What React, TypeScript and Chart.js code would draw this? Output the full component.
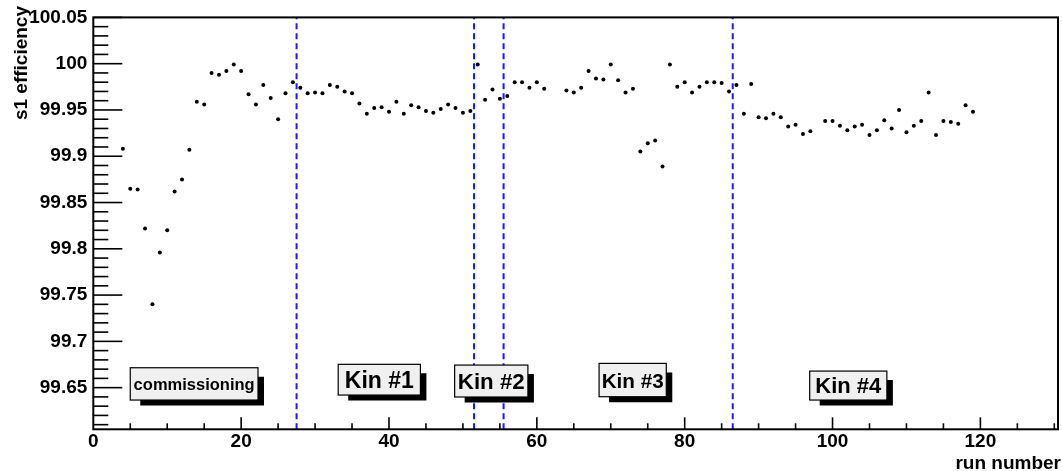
import React, { useEffect, useRef } from 'react';
import { Chart, registerables } from 'chart.js';

Chart.register(...registerables);

// ---- data ----
const runs = [
  4, 5, 6, 7, 8, 9, 10, 11, 12, 13, 14, 15, 16, 17, 18, 19, 20, 21, 22, 23, 24, 25, 26, 27, 28, 29,
  30, 31, 32, 33, 34, 35, 36, 37, 38, 39, 40, 41, 42, 43, 44, 45, 46, 47, 48, 49, 50, 51, 52, 53, 54,
  55, 56, 57, 58, 59, 60, 61, 64, 65, 66, 67, 68, 69, 70, 71, 72, 73, 74, 75, 76, 77, 78, 79, 80, 81,
  82, 83, 84, 85, 86, 87, 88, 89, 90, 91, 92, 93, 94, 95, 96, 97, 99, 100, 101, 102, 103, 104, 105,
  106, 107, 108, 109, 110, 111, 112, 113, 114, 115, 116, 117, 118, 119,
];
const efficiency = [
  99.908, 99.865, 99.864, 99.822, 99.74, 99.796, 99.82, 99.862, 99.875, 99.907, 99.959, 99.956,
  99.99, 99.988, 99.992, 99.999, 99.992, 99.967, 99.956, 99.977, 99.963, 99.94, 99.968, 99.98,
  99.974, 99.968, 99.969, 99.968, 99.977, 99.975, 99.97, 99.968, 99.957, 99.946, 99.952, 99.953,
  99.948, 99.959, 99.946, 99.955, 99.953, 99.949, 99.947, 99.951, 99.956, 99.952, 99.947, 99.949,
  99.999, 99.961, 99.972, 99.962, 99.965, 99.98, 99.98, 99.974, 99.98, 99.973,
  99.971, 99.969, 99.974, 99.992, 99.984, 99.983, 99.999, 99.982, 99.969, 99.973, 99.905, 99.914,
  99.917, 99.889, 99.999, 99.975, 99.98, 99.969, 99.975, 99.98, 99.98, 99.979, 99.97, 99.977,
  99.946, 99.978, 99.942, 99.941, 99.946, 99.942, 99.932, 99.934, 99.924, 99.927,
  99.938, 99.938, 99.933, 99.928, 99.932, 99.934, 99.923, 99.928, 99.939, 99.93, 99.95, 99.926,
  99.933, 99.938, 99.969, 99.923, 99.938, 99.937, 99.935, 99.955, 99.948,
];
const xTickValues = [0, 20, 40, 60, 80, 100, 120];
const yTickValues = [99.65, 99.7, 99.75, 99.8, 99.85, 99.9, 99.95, 100, 100.05];
const kinBoundaries = [27.5, 51.5, 55.5, 86.5];
const regionLabels = ['commissioning', 'Kin #1', 'Kin #2', 'Kin #3', 'Kin #4'];

// annotation boxes (data units), one per region label
const regionBoxes = [
  { x1: 5.0, x2: 22.28, y1: 99.6366, y2: 99.6715, font: 16.5 },
  { x1: 33.13, x2: 44.25, y1: 99.642, y2: 99.6752, font: 23 },
  { x1: 48.88, x2: 58.79, y1: 99.6399, y2: 99.6744, font: 22.3 },
  { x1: 68.42, x2: 77.51, y1: 99.6402, y2: 99.6762, font: 20.7 },
  { x1: 96.91, x2: 107.35, y1: 99.6366, y2: 99.6679, font: 22 },
];

const FONT = '"Liberation Sans", Arial, Helvetica, sans-serif';
const X_MIN = 0;
const X_MAX = 130.5;
const Y_MIN = 99.605;
const Y_MAX = 100.05;

const rootPlugin = {
  id: 'rootStyle',
  beforeDatasetsDraw(chart: any) {
    const { ctx, chartArea: a, scales } = chart;
    const x = scales.x;
    ctx.save();
    ctx.strokeStyle = '#1a1aff';
    ctx.lineWidth = 2;
    ctx.setLineDash([6, 4]);
    kinBoundaries.forEach((v) => {
      const px = x.getPixelForValue(v);
      ctx.beginPath();
      ctx.moveTo(px, a.bottom);
      ctx.lineTo(px, a.top);
      ctx.stroke();
    });
    ctx.restore();
  },
  afterDatasetsDraw(chart: any) {
    const { ctx, scales } = chart;
    const x = scales.x;
    const y = scales.y;
    ctx.save();
    regionBoxes.forEach((b, i) => {
      const l = x.getPixelForValue(b.x1);
      const r = x.getPixelForValue(b.x2);
      const t = y.getPixelForValue(b.y2);
      const bt = y.getPixelForValue(b.y1);
      // shadow
      ctx.fillStyle = '#000';
      ctx.beginPath();
      ctx.moveTo(l + 10, bt);
      ctx.lineTo(r, bt);
      ctx.lineTo(r, t + 9);
      ctx.lineTo(r + 6, t + 9);
      ctx.lineTo(r + 6, bt + 5.5);
      ctx.lineTo(l + 10, bt + 5.5);
      ctx.closePath();
      ctx.fill();
      // box
      ctx.fillStyle = '#f0f0f0';
      ctx.fillRect(l, t, r - l, bt - t);
      ctx.strokeStyle = '#000';
      ctx.lineWidth = 1.2;
      ctx.strokeRect(l, t, r - l, bt - t);
      // text
      ctx.fillStyle = '#000';
      ctx.font = `bold ${b.font}px ${FONT}`;
      ctx.textAlign = 'center';
      ctx.textBaseline = 'alphabetic';
      ctx.fillText(regionLabels[i], (l + r) / 2, (t + bt) / 2 + b.font * 0.36);
    });
    ctx.restore();
  },
  afterDraw(chart: any) {
    const { ctx, chartArea: a, scales } = chart;
    const x = scales.x;
    const y = scales.y;
    ctx.save();
    ctx.strokeStyle = '#000';
    // y ticks
    ctx.lineWidth = 1.6;
    for (let k = Math.ceil(Y_MIN * 100 - 1e-6); k <= Math.round(Y_MAX * 100); k++) {
      const py = y.getPixelForValue(k / 100);
      const len = k % 5 === 0 ? 29 : 15;
      ctx.beginPath();
      ctx.moveTo(a.left, py);
      ctx.lineTo(a.left + len, py);
      ctx.stroke();
    }
    // x ticks
    for (let v = 5; v <= X_MAX; v += 5) {
      const px = x.getPixelForValue(v);
      const len = v % 20 === 0 ? 12 : 6;
      ctx.beginPath();
      ctx.moveTo(px, a.bottom);
      ctx.lineTo(px, a.bottom - len);
      ctx.stroke();
    }
    // frame
    ctx.lineWidth = 2;
    ctx.strokeRect(a.left, a.top, a.right - a.left, a.bottom - a.top);
    // axis titles
    ctx.fillStyle = '#000';
    ctx.font = `bold 19px ${FONT}`;
    ctx.textAlign = 'right';
    ctx.textBaseline = 'alphabetic';
    ctx.fillText('run number', 1061, 469);
    ctx.translate(27, 6);
    ctx.rotate(-Math.PI / 2);
    ctx.fillText('s1 efficiency', 0, 0);
    ctx.restore();
  },
};

export default function App() {
  const ref = useRef<HTMLCanvasElement>(null);
  useEffect(() => {
    document.body.style.margin = '0';
    const points = runs.map((r, i) => ({ x: r, y: efficiency[i] }));
    const tickFont = { family: FONT, size: 19, weight: 'bold' as const };
    const chart = new Chart(ref.current as HTMLCanvasElement, {
      type: 'scatter',
      data: {
        datasets: [
          {
            data: points,
            pointRadius: 2,
            pointBackgroundColor: '#000',
            pointBorderWidth: 0,
            showLine: false,
          },
        ],
      },
      plugins: [rootPlugin],
      options: {
        animation: false,
        responsive: false,
        devicePixelRatio: 1,
        layout: { padding: { left: 0, top: 17, right: 2, bottom: 0 } },
        plugins: { legend: { display: false }, tooltip: { enabled: false } },
        scales: {
          x: {
            type: 'linear',
            position: 'bottom',
            min: X_MIN,
            max: X_MAX,
            grid: { display: false, drawTicks: false },
            border: { display: false },
            ticks: {
              color: '#000',
              font: tickFont,
              padding: 1,
              autoSkip: false,
              maxRotation: 0,
              callback: (v: any) => String(v),
            },
            afterBuildTicks: (s: any) => {
              s.ticks = xTickValues.map((v) => ({ value: v }));
            },
            afterFit: (s: any) => {
              s.height = 41.7;
            },
          },
          y: {
            type: 'linear',
            min: Y_MIN,
            max: Y_MAX,
            grid: { display: false, drawTicks: false },
            border: { display: false },
            ticks: {
              color: '#000',
              font: tickFont,
              padding: 6,
              autoSkip: false,
              callback: (v: any) => String(Number(Number(v).toFixed(2))),
            },
            afterBuildTicks: (s: any) => {
              s.ticks = yTickValues.map((v) => ({ value: v }));
            },
            afterFit: (s: any) => {
              s.width = 93.3;
            },
          },
        },
      },
    });
    return () => chart.destroy();
  }, []);
  return (
    <div style={{ width: 1062, height: 471 }}>
      <canvas ref={ref} width={1062} height={471} style={{ display: 'block', width: 1062, height: 471 }} />
    </div>
  );
}
